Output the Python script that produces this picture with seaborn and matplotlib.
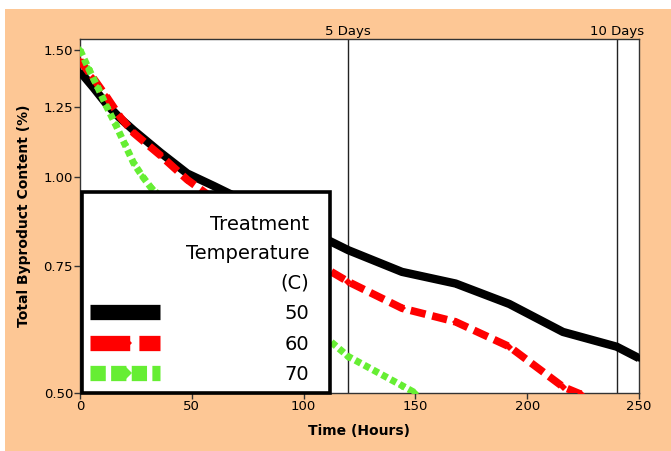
import numpy as np
import pandas as pd
import matplotlib
matplotlib.use("Agg")
import matplotlib.pyplot as plt
from matplotlib.patches import Rectangle
from matplotlib.ticker import FixedLocator, NullLocator, FixedFormatter
import seaborn as sns

# Byproduct content over time for each treatment temperature
hours_50 = [0, 6, 12, 18, 24, 36, 48, 60, 72, 96, 120, 144, 168, 192, 216, 240, 250]
content_50 = [1.40, 1.33, 1.26, 1.205, 1.16, 1.08, 1.01, 0.97, 0.93, 0.86, 0.79, 0.737, 0.710, 0.665, 0.608, 0.580, 0.559]

hours_60 = [0, 6, 12, 18, 24, 36, 48, 60, 72, 96, 120, 144, 168, 192, 216, 224]
content_60 = [1.45, 1.37, 1.29, 1.21, 1.15, 1.07, 0.99, 0.93, 0.88, 0.79, 0.714, 0.656, 0.628, 0.580, 0.510, 0.498]

hours_70 = [0, 4, 8, 12, 16, 20, 24, 28, 32, 48, 72, 96, 120, 144, 150]
content_70 = [1.50, 1.41, 1.33, 1.25, 1.18, 1.11, 1.044, 1.00, 0.963, 0.87, 0.75, 0.65, 0.562, 0.512, 0.50]

temperatures = ["50", "60", "70"]
line_colors = ["#000000", "#ff0000", "#66ee33"]

y_ticks = [0.50, 0.75, 1.00, 1.25, 1.50]
x_ticks = [0, 50, 100, 150, 200, 250]
day_marks = [120, 240]
day_labels = ["5 Days", "10 Days"]

df = pd.concat([
    pd.DataFrame({"Time": hours_50, "Content": content_50, "Temp": "50"}),
    pd.DataFrame({"Time": hours_60, "Content": content_60, "Temp": "60"}),
    pd.DataFrame({"Time": hours_70, "Content": content_70, "Temp": "70"}),
])

sns.set_theme(style="white")
plt.rcParams["font.family"] = ["DejaVu Sans"]
plt.rcParams.update({"text.color": "black", "axes.labelcolor": "black",
                     "xtick.color": "black", "ytick.color": "black"})

fig = plt.figure(figsize=(6.71, 4.51), dpi=100, facecolor="white")
fig.patches.append(Rectangle((5 / 671, 0), 1, 442 / 451, transform=fig.transFigure,
                             facecolor="#fdc795", edgecolor="none", zorder=-10))
ax = fig.add_axes([80 / 671, 58 / 451, 559 / 671, 354 / 451])
ax.set_facecolor("white")

styles = {"50": (0, ()), "60": (0, (2.0, 0.9)), "70": (0, (0.9, 0.55))}
widths = {"50": 6.0, "60": 5.5, "70": 5.0}

sns.lineplot(data=df, x="Time", y="Content", hue="Temp", hue_order=temperatures,
             palette=dict(zip(temperatures, line_colors)), ax=ax, legend=False,
             marker="D", markersize=4, markeredgewidth=0, sort=True, estimator=None)

for line, t in zip(ax.get_lines(), temperatures):
    line.set_linewidth(widths[t])
    line.set_linestyle(styles[t])
    line.set_dash_capstyle("butt")
    line.set_solid_capstyle("butt")
    line.set_zorder(3)

for d in day_marks:
    ax.axvline(d, color="#222222", lw=1.0, zorder=2)

ax.set_yscale("log")
ax.set_xlim(0, 250)
ax.set_ylim(0.5, 1.554)
ax.yaxis.set_major_locator(FixedLocator(y_ticks))
ax.yaxis.set_major_formatter(FixedFormatter([f"{v:.2f}" for v in y_ticks]))
ax.yaxis.set_minor_locator(NullLocator())
ax.set_xticks(x_ticks)
ax.tick_params(axis="both", which="major", direction="out", length=4, width=1,
               color="#333333", labelcolor="black", labelsize=9.5, pad=1,
               left=True, bottom=True)

for s in ax.spines.values():
    s.set_color("#333333")
    s.set_linewidth(1.0)

ax.set_xlabel("Time (Hours)", fontsize=10, fontweight="bold", labelpad=8, color="black")
ax.set_ylabel("Total Byproduct Content (%)", fontsize=10, fontweight="bold", labelpad=9,
              color="black")

top = ax.secondary_xaxis("top")
top.set_xticks(day_marks)
top.set_xticklabels(day_labels)
top.tick_params(length=0, labelsize=9.5, pad=1, labelcolor="black")
top.spines["top"].set_visible(False)

# legend box: opaque panel in the lower-left corner of the plot
ax.add_patch(Rectangle((0.003, 0.0), 0.444, 0.569, transform=ax.transAxes,
                       facecolor="white", edgecolor="black", linewidth=2.6,
                       zorder=5, clip_on=False))

handle_styles = {"50": (0, ()), "60": (0, (2.6, 0.6)), "70": (0, (1.0, 0.35))}
handles = [plt.Line2D([], [], color=c, lw=11, linestyle=handle_styles[t],
                      marker="D", markersize=7, markeredgewidth=0,
                      dash_capstyle="butt", solid_capstyle="butt")
           for t, c in zip(temperatures, line_colors)]
leg = ax.legend(handles, temperatures, title="Treatment\nTemperature\n(C)",
                loc="lower left", bbox_to_anchor=(0.002, 0.0),
                frameon=False,
                fontsize=14, title_fontsize=14, handlelength=3.6, handletextpad=6.4,
                borderaxespad=0.0, borderpad=0.45, labelspacing=0.6,
                alignment="right", markerfirst=True)
leg.get_title().set_linespacing(1.66)
leg.get_title().set_multialignment("right")
leg.get_title().set_color("black")
for txt in leg.get_texts():
    txt.set_color("black")
leg.set_zorder(6)

fig.savefig("out.png", dpi=100, facecolor=fig.get_facecolor())
